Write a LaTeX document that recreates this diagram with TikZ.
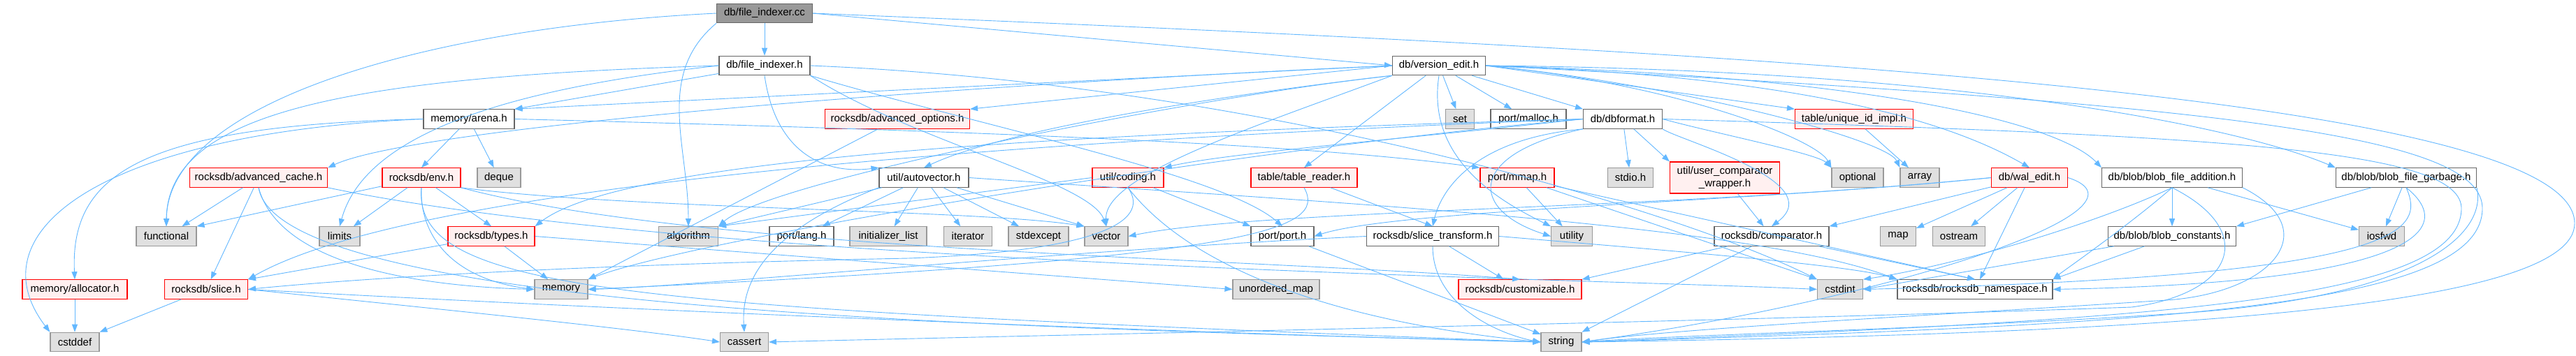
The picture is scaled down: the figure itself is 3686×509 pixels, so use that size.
\documentclass[tikz,border=0pt]{standalone}
\usepackage{fontspec}
\setmainfont{Liberation Sans}
\usetikzlibrary{arrows.meta}
\definecolor{edgeblue}{RGB}{99,184,255}
\definecolor{redfill}{RGB}{255,240,240}
\definecolor{grayfill}{RGB}{224,224,224}
\definecolor{grayline}{RGB}{153,153,153}
\definecolor{darkline}{RGB}{102,102,102}
\definecolor{rootfill}{RGB}{153,153,153}
\tikzset{
  base/.style={draw, line width=1.1pt, minimum height=27.5pt, inner xsep=2pt, inner ysep=0pt,
    font=\fontsize{15}{18}\selectfont, align=center},
  wnode/.style={base, draw=darkline, fill=white},
  rnode/.style={base, draw=red, fill=redfill},
  gnode/.style={base, draw=grayline, fill=grayfill},
  root/.style={base, draw=darkline, fill=rootfill},
  edge/.style={draw=edgeblue, line width=0.9pt, -{Triangle[length=11pt,width=8pt]}},
}
\begin{document}
\begin{tikzpicture}[x=1pt,y=-1pt]
\useasboundingbox[fill=white] (0,0) rectangle (3686,509);
% row 1
\node[root, minimum width=137pt] (cc) at (1094,19) {db/file\_indexer.cc};
% row 2
\node[wnode, minimum width=130pt] (fih) at (1094,94) {db/file\_indexer.h};
\node[wnode, minimum width=133pt] (ve) at (2059,94) {db/version\_edit.h};
% row 3
\node[wnode, minimum width=130pt] (arena) at (671,170.5) {memory/arena.h};
\node[rnode, minimum width=207pt] (advopt) at (1284,170.5) {rocksdb/advanced\_options.h};
\node[gnode, minimum width=41pt] (set) at (2089,170.5) {set};
\node[wnode, minimum width=108pt] (malloc) at (2187,170.5) {port/malloc.h};
\node[wnode, minimum width=113pt] (dbf) at (2322,170.5) {db/dbformat.h};
\node[rnode, minimum width=169pt] (uid) at (2653,170.5) {table/unique\_id\_impl.h};
% row 4
\node[rnode, minimum width=197pt] (advcache) at (370,254.5) {rocksdb/advanced\_cache.h};
\node[rnode, minimum width=112pt] (env) at (603,254.5) {rocksdb/env.h};
\node[gnode, minimum width=62pt] (deque) at (714,254.5) {deque};
\node[wnode, minimum width=128pt] (autovec) at (1322,254.5) {util/autovector.h};
\node[rnode, minimum width=102pt] (coding) at (1614,254.5) {util/coding.h};
\node[rnode, minimum width=152pt] (treader) at (1866,254.5) {table/table\_reader.h};
\node[rnode, minimum width=106pt] (mmap) at (2171,254.5) {port/mmap.h};
\node[gnode, minimum width=65pt] (stdio) at (2333,254.5) {stdio.h};
\node[rnode, minimum width=157pt, minimum height=45pt] (ucw) at (2468,254.5) {util/user\_comparator\\\_wrapper.h};
\node[gnode, minimum width=74pt] (optional) at (2658,254.5) {optional};
\node[gnode, minimum width=56pt] (array) at (2747,254.5) {array};
\node[rnode, minimum width=109pt] (wal) at (2904,254.5) {db/wal\_edit.h};
\node[wnode, minimum width=201pt] (bfa) at (3108,254.5) {db/blob/blob\_file\_addition.h};
\node[wnode, minimum width=201pt] (bfg) at (3443,254.5) {db/blob/blob\_file\_garbage.h};
% row 5
\node[gnode, minimum width=86pt] (functional) at (238,338.5) {functional};
\node[gnode, minimum width=58pt] (limits) at (486,338.5) {limits};
\node[rnode, minimum width=124pt] (types) at (703,338.5) {rocksdb/types.h};
\node[gnode, minimum width=85pt] (algorithm) at (985,338.5) {algorithm};
\node[wnode, minimum width=92pt] (lang) at (1147,338.5) {port/lang.h};
\node[gnode, minimum width=110pt] (initlist) at (1271,338.5) {initializer\_list};
\node[gnode, minimum width=69pt] (iterator) at (1385,338.5) {iterator};
\node[gnode, minimum width=86pt] (stdexcept) at (1486,338.5) {stdexcept};
\node[gnode, minimum width=62pt] (vector) at (1583,338.5) {vector};
\node[wnode, minimum width=90pt] (port) at (1835,338.5) {port/port.h};
\node[wnode, minimum width=189pt] (stf) at (2050,338.5) {rocksdb/slice\_transform.h};
\node[gnode, minimum width=59pt] (utility) at (2249,338.5) {utility};
\node[wnode, minimum width=164pt] (comparator) at (2535,338.5) {rocksdb/comparator.h};
\node[gnode, minimum width=51pt] (map) at (2716,338.5) {map};
\node[gnode, minimum width=75pt] (ostream) at (2803,338.5) {ostream};
\node[wnode, minimum width=183pt] (bconst) at (3108,338.5) {db/blob/blob\_constants.h};
\node[gnode, minimum width=65pt] (iosfwd) at (3408,338.5) {iosfwd};
% row 6
\node[rnode, minimum width=150pt] (allocator) at (107,414.5) {memory/allocator.h};
\node[rnode, minimum width=119pt] (slice) at (295,414.5) {rocksdb/slice.h};
\node[gnode, minimum width=76pt] (memory) at (803,414.5) {memory};
\node[gnode, minimum width=124pt] (umap) at (1826,414.5) {unordered\_map};
\node[rnode, minimum width=176pt] (custom) at (2175,414.5) {rocksdb/customizable.h};
\node[gnode, minimum width=65pt] (cstdint) at (2633,414.5) {cstdint};
\node[wnode, minimum width=222pt] (ns) at (2826,414.5) {rocksdb/rocksdb\_namespace.h};
% row 7
\node[gnode, minimum width=70pt] (cstddef) at (107,490) {cstddef};
\node[gnode, minimum width=69pt] (cassert) at (1065,490) {cassert};
\node[gnode, minimum width=58pt] (string) at (2234,490) {string};

% ---------------- edges ----------------
% file_indexer.cc
\draw[edge] (cc) -- (fih);
\draw[edge] (cc.south west) to[out=220,in=90] (algorithm.north);
\draw[edge] (cc.west) .. controls (600,40) and (240,150) .. (functional.north);
\draw[edge] (cc.east) -- (ve.west);
\draw[edge] (cc.east) .. controls (2400,70) and (3684,130) .. (3684,320) .. controls (3684,440) and (3100,478) .. (string.east);
% file_indexer.h
\draw[edge] (fih) -- (arena.north east);
\draw[edge] (fih.west) .. controls (500,110) and (240,160) .. (functional.north);
\draw[edge] (fih.west) .. controls (700,130) and (520,200) .. (limits.north);
\draw[edge] (fih.south) .. controls (1110,220) and (1180,250) .. (autovec.north west);
\draw[edge] (fih.south east) .. controls (1300,200) and (1560,260) .. (vector.north);
\draw[edge] (fih.south east) .. controls (1400,180) and (1750,250) .. (port.north);
\draw[edge] (fih.east) .. controls (1800,120) and (2400,300) .. (cstdint.north west);
% version_edit.h
\draw[edge] (ve.west) -- (arena.north east);
\draw[edge] (ve.west) -- (advopt.north east);
\draw[edge] (ve.west) .. controls (1400,120) and (600,180) .. (advcache.north east);
\draw[edge] (ve.south west) .. controls (1800,130) and (1450,180) .. (autovec.north);
\draw[edge] (ve.south west) .. controls (1700,140) and (1100,260) .. (algorithm.north east);
\draw[edge] (ve.south west) .. controls (1800,180) and (1580,250) .. (vector.north);
\draw[edge] (ve) -- (treader.north);
\draw[edge] (ve) -- (set);
\draw[edge] (ve) -- (malloc);
\draw[edge] (ve) -- (dbf.north west);
\draw[edge] (ve.south) .. controls (2040,230) and (2150,290) .. (utility.north west);
\draw[edge] (ve.east) -- (uid.north west);
\draw[edge] (ve.east) .. controls (2400,120) and (2600,200) .. (optional.north west);
\draw[edge] (ve.east) .. controls (2400,120) and (2700,200) .. (array.north west);
\draw[edge] (ve.east) .. controls (2600,110) and (2800,180) .. (wal.north);
\draw[edge] (ve.east) .. controls (2700,110) and (2950,180) .. (bfa.north west);
\draw[edge] (ve.east) .. controls (2800,100) and (3200,180) .. (bfg.north west);
\draw[edge] (ve.east) .. controls (3200,150) and (3555,195) .. (3552,300) .. controls (3548,440) and (3100,465) .. (string.east);
% memory/arena.h
\draw[edge] (arena) -- (env.north);
\draw[edge] (arena) -- (deque);
\draw[edge] (arena.west) .. controls (200,180) and (100,250) .. (allocator.north);
\draw[edge] (arena.west) .. controls (150,190) and (-40,330) .. (cstddef.north west);
\draw[edge] (arena.east) .. controls (1500,190) and (1900,210) .. (mmap.north west);
% allocator, slice
\draw[edge] (allocator) -- (cstddef);
\draw[edge] (slice) -- (cstddef);
\draw[edge] (slice.east) .. controls (600,440) and (900,470) .. (cassert.west);
\draw[edge] (slice.east) .. controls (1000,450) and (1800,480) .. (string.west);
% env.h
\draw[edge] (env) -- (functional.north east);
\draw[edge] (env) -- (limits);
\draw[edge] (env) -- (types.north);
\draw[edge] (env.south) .. controls (600,340) and (650,400) .. (memory.west);
\draw[edge] (env.south) .. controls (590,420) and (900,440) .. (string.west);
\draw[edge] (env.south east) .. controls (900,300) and (1400,300) .. (vector.north west);
\draw[edge] (env.south east) .. controls (1000,360) and (1800,370) .. (custom.north);
% types.h
\draw[edge] (types) -- (memory);
\draw[edge] (types) -- (slice.north east);
\draw[edge] (types.east) -- (umap.west);
% advanced_cache.h
\draw[edge] (advcache) -- (functional);
\draw[edge] (advcache) -- (slice);
\draw[edge] (advcache.south) .. controls (400,380) and (600,410) .. (memory.west);
\draw[edge] (advcache.south) .. controls (400,450) and (1500,470) .. (string.west);
\draw[edge] (advcache.south east) .. controls (1000,380) and (2300,400) .. (cstdint.west);
% advanced_options.h
\draw[edge] (advopt) -- (memory.north east);
% autovector.h
\draw[edge] (autovec) -- (algorithm.north east);
\draw[edge] (autovec) -- (lang);
\draw[edge] (autovec) -- (initlist);
\draw[edge] (autovec) -- (iterator);
\draw[edge] (autovec) -- (stdexcept);
\draw[edge] (autovec) -- (vector.north west);
\draw[edge] (autovec.south west) .. controls (1100,330) and (1060,400) .. (cassert.north);
\draw[edge] (autovec.east) .. controls (1900,290) and (2500,320) .. (ns.north west);
% coding.h
\draw[edge] (coding.west) -- (algorithm.north east);
\draw[edge] (coding) -- (port.north west);
\draw[edge] (coding.south) .. controls (1650,320) and (1560,360) .. (1300,370) .. controls (800,380) and (500,400) .. (slice.east);
\draw[edge] (coding.south) .. controls (1700,380) and (1900,460) .. (string.west);
% table_reader.h
\draw[edge] (treader) -- (stf.north);
\draw[edge] (treader.south) .. controls (1900,330) and (1800,370) .. (memory.east);
% port/mmap.h
\draw[edge] (mmap) -- (utility);
\draw[edge] (mmap) -- (cstdint.north west);
\draw[edge] (mmap) -- (ns.north);
% port.h
\draw[edge] (port) -- (string);
% slice_transform.h
\draw[edge] (stf) -- (custom);
\draw[edge] (stf.south) .. controls (2050,440) and (2150,480) .. (string.west);
\draw[edge] (stf.west) .. controls (1500,360) and (1000,410) .. (memory.east);
\draw[edge] (stf.east) .. controls (2400,360) and (2650,380) .. (ns.north west);
% comparator.h
\draw[edge] (comparator) -- (custom.north east);
\draw[edge] (comparator) -- (string.north east);
\draw[edge] (comparator) -- (ns.north);
% user_comparator_wrapper
\draw[edge] (ucw) -- (comparator);
% dbformat.h
\draw[edge] (dbf) -- (stdio);
\draw[edge] (dbf) -- (ucw.north west);
\draw[edge] (dbf.east) .. controls (2450,190) and (2600,220) .. (optional.north west);
\draw[edge] (dbf.south east) .. controls (2400,200) and (2620,260) .. (comparator.north);
\draw[edge] (dbf.south west) .. controls (2100,200) and (2060,280) .. (stf.north);
\draw[edge] (dbf.south west) .. controls (2100,220) and (2100,300) .. (utility.west);
\draw[edge] (dbf.west) .. controls (1600,190) and (900,220) .. (types.north east);
\draw[edge] (dbf.west) .. controls (2000,200) and (1750,220) .. (coding.north east);
\draw[edge] (dbf.west) .. controls (1500,200) and (600,260) .. (slice.north east);
\draw[edge] (dbf.west) .. controls (1800,210) and (1000,340) .. (memory.north east);
\draw[edge] (dbf.east) .. controls (3200,195) and (3525,215) .. (3522,300) .. controls (3518,430) and (3100,458) .. (string.east);
% unique_id_impl.h
\draw[edge] (uid) -- (array);
% wal_edit.h
\draw[edge] (wal) -- (map);
\draw[edge] (wal) -- (ostream);
\draw[edge] (wal) -- (ns);
\draw[edge] (wal) -- (comparator.north east);
\draw[edge] (wal.west) .. controls (2500,290) and (2000,300) .. (port.east);
\draw[edge] (wal.west) .. controls (2400,300) and (1800,300) .. (vector.east);
\draw[edge] (wal.east) .. controls (3100,300) and (2700,430) .. (string.east);
% blob_file_addition.h
\draw[edge] (bfa) -- (bconst);
\draw[edge] (bfa) -- (iosfwd);
\draw[edge] (bfa.south) .. controls (3000,320) and (2800,380) .. (cstdint.north east);
\draw[edge] (bfa.south) .. controls (3050,320) and (2950,390) .. (ns.north east);
\draw[edge] (bfa.south) .. controls (3230,330) and (3200,420) .. (3050,440) .. controls (2500,460) and (1500,480) .. (cassert.east);
\draw[edge] (bfa.south east) .. controls (3330,330) and (3250,420) .. (3100,430) .. controls (2800,450) and (2400,470) .. (string.east);
% blob_file_garbage.h
\draw[edge] (bfg) -- (bconst.north east);
\draw[edge] (bfg) -- (iosfwd);
\draw[edge] (bfg.south) .. controls (3470,330) and (3450,395) .. (cstdint.east);
\draw[edge] (bfg.south) .. controls (3520,330) and (3450,405) .. (ns.east);
\draw[edge] (bfg.south east) .. controls (3560,340) and (3450,430) .. (3100,450) .. controls (2800,470) and (2400,480) .. (string.east);
% blob_constants.h
\draw[edge] (bconst) -- (cstdint.east);
\draw[edge] (bconst) -- (ns.north east);
\end{tikzpicture}
\end{document}
